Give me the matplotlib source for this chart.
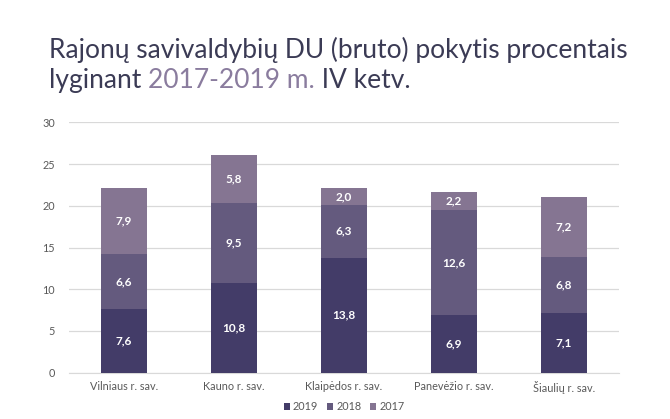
import matplotlib
matplotlib.use('Agg')
import matplotlib.pyplot as plt
import numpy as np

categories = ['Vilniaus r. sav.', 'Kauno r. sav.', 'Klaipėdos r. sav.',
              'Panevėžio r. sav.', 'Šiaulių r. sav.']
series_names = ['2019', '2018', '2017']
v2019 = [7.6, 10.8, 13.8, 6.9, 7.1]
v2018 = [6.6, 9.5, 6.3, 12.6, 6.8]
v2017 = [7.9, 5.8, 2.0, 2.2, 7.2]
colors = ['#433c68', '#645a7e', '#857592']

plt.rcParams['font.family'] = ['Lato', 'DejaVu Sans']

fig = plt.figure(figsize=(6.7, 4.19), dpi=100)
ax = fig.add_axes([0.103, 0.1105, 0.821, 0.5975])

x = np.arange(len(categories))
bottom = np.zeros(len(categories))
for name, vals, col in zip(series_names, [v2019, v2018, v2017], colors):
    bars = ax.bar(x, vals, width=0.42, bottom=bottom, color=col, label=name, zorder=3)
    for b, v in zip(bars, vals):
        ax.text(b.get_x() + b.get_width() / 2, b.get_y() + v / 2,
                f'{v:.1f}'.replace('.', ','), ha='center', va='center',
                color='white', fontsize=8.5, fontweight='bold', zorder=4)
    bottom += np.array(vals)

ax.set_xlim(-0.5, len(categories) - 0.5)
ax.set_ylim(0, 30)
ax.set_yticks(range(0, 31, 5))
ax.set_xticks(x)
ax.set_xticklabels(categories)
ax.tick_params(length=0, labelsize=7.8, labelcolor='#595959')
ax.tick_params(axis='y', pad=10)
ax.tick_params(axis='x', pad=6)
ax.grid(axis='y', color='#d9d9d9', linewidth=0.9, zorder=0)
for s in ['top', 'right', 'left']:
    ax.spines[s].set_visible(False)
ax.spines['bottom'].set_color('#d9d9d9')

ax.legend(loc='upper center', bbox_to_anchor=(0.5, -0.075), ncol=3, frameon=False,
          fontsize=7.8, handlelength=0.55, handleheight=0.55, handletextpad=0.3,
          columnspacing=0.8, labelcolor='#595959')

# title, second line has a coloured part
fig.text(0.073, 0.862, 'Rajonų savivaldybių DU (bruto) pokytis procentais',
         fontsize=19, color='#3b3b55', va='baseline')
fig.canvas.draw()
r = fig.canvas.get_renderer()
parts = [('lyginant ', '#3b3b55'), ('2017-2019 m.', '#8a7c9e'), (' IV ketv.', '#3b3b55')]
xpos = 0.073
for txt, col in parts:
    t = fig.text(xpos, 0.79, txt, fontsize=19, color=col, va='baseline')
    bb = t.get_window_extent(renderer=r)
    xpos += bb.width / fig.bbox.width

fig.savefig('out.png', dpi=100)
